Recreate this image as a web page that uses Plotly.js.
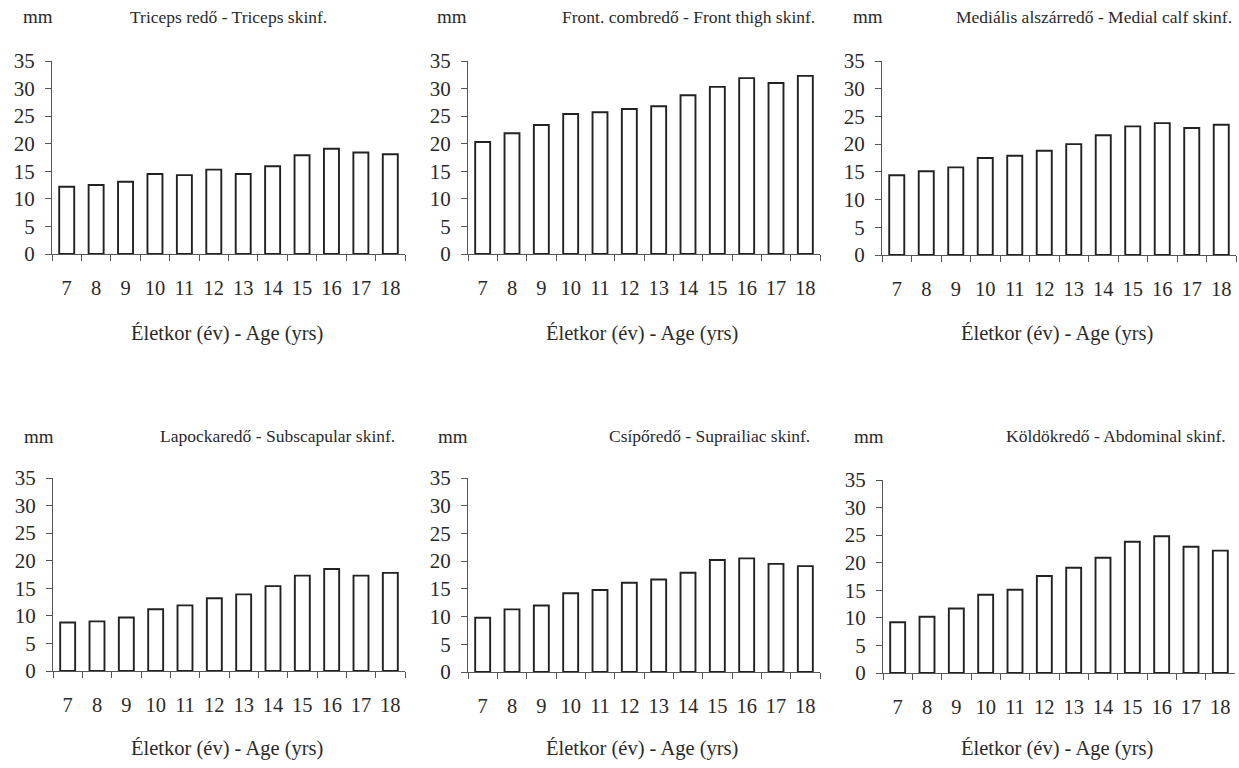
<!DOCTYPE html>
<html>
<head>
<meta charset="utf-8">
<script src="https://cdn.plot.ly/plotly-3.0.1.min.js"></script>
<style>html,body{margin:0;padding:0;background:#fff;}#chart{width:1239px;height:768px;}</style>
</head>
<body>
<div id="chart"></div>
<script>
const ages = ['7','8','9','10','11','12','13','14','15','16','17','18'];
const tricepsSkinf = [12.2, 12.5, 13.1, 14.5, 14.3, 15.3, 14.5, 15.9, 17.9, 19.1, 18.4, 18.1];
const frontThighSkinf = [20.3, 21.9, 23.4, 25.4, 25.7, 26.3, 26.8, 28.8, 30.3, 31.9, 31.0, 32.3];
const medialCalfSkinf = [14.4, 15.1, 15.8, 17.5, 17.9, 18.8, 20.0, 21.6, 23.2, 23.8, 22.9, 23.5];
const subscapularSkinf = [8.8, 9.0, 9.7, 11.2, 11.9, 13.2, 13.9, 15.4, 17.3, 18.5, 17.3, 17.8];
const suprailiacSkinf = [9.8, 11.3, 12.0, 14.2, 14.8, 16.1, 16.7, 17.9, 20.2, 20.5, 19.5, 19.1];
const abdominalSkinf = [9.2, 10.2, 11.7, 14.2, 15.1, 17.6, 19.1, 20.9, 23.8, 24.8, 22.9, 22.2];
const panelTitles = [
  'Triceps redő - Triceps skinf.',
  'Front. combredő - Front thigh skinf.',
  'Mediális alszárredő - Medial calf skinf.',
  'Lapockaredő - Subscapular skinf.',
  'Csípőredő - Suprailiac skinf.',
  'Köldökredő - Abdominal skinf.'
];
const unitLabel = 'mm';
const xTitle = 'Életkor (év) - Age (yrs)';
const yTicks = [0, 5, 10, 15, 20, 25, 30, 35];

const W = 1239, H = 768;
const series = [tricepsSkinf, frontThighSkinf, medialCalfSkinf, subscapularSkinf, suprailiacSkinf, abdominalSkinf];
// pixel boxes: [x0, x1, yTop, yBottom]
const boxes = [
  [52, 405, 61, 254],
  [468, 820, 61, 254],
  [882, 1236, 61, 255],
  [53, 405, 478, 671],
  [468, 820, 478, 672],
  [883, 1235, 480, 673]
];
// title placement: [mmCenterX, titleRightX, titleY]
const titlePos = [
  [38, 329, 17],
  [452, 817, 17],
  [868, 1234, 17],
  [39, 397, 436],
  [453, 812, 436],
  [869, 1228, 436]
];
const xTitleY = [334, 334, 334, 748, 748, 748];

const font = 'Liberation Serif';
const txt = '#2a2a2a';
const data = [];
const layout = {
  width: W, height: H,
  margin: {l: 0, r: 0, t: 0, b: 0},
  paper_bgcolor: '#fff', plot_bgcolor: '#fff',
  showlegend: false,
  bargap: 0.49,
  font: {family: font, color: txt, size: 18},
  annotations: []
};
series.forEach((vals, i) => {
  const n = i + 1;
  const sfx = n === 1 ? '' : String(n);
  const b = boxes[i];
  data.push({
    type: 'bar', x: ages, y: vals,
    xaxis: 'x' + sfx, yaxis: 'y' + sfx,
    marker: {color: '#fff', line: {color: '#222', width: 1.9}},
    hoverinfo: 'x+y'
  });
  layout['xaxis' + sfx] = {
    domain: [b[0] / W, b[1] / W], anchor: 'y' + sfx,
    type: 'category', tickson: 'boundaries', ticks: 'outside', ticklen: 6,
    tickcolor: '#555', showline: true, linecolor: '#555', linewidth: 1,
    showgrid: false, zeroline: false, ticklabelstandoff: 15, tickangle: 0,
    tickfont: {family: font, size: 20.5, color: txt}, fixedrange: true
  };
  layout['yaxis' + sfx] = {
    domain: [1 - b[3] / H, 1 - b[2] / H], anchor: 'x' + sfx,
    range: [0, 35], tickvals: yTicks, ticks: 'outside', ticklen: 6,
    tickcolor: '#555', showline: true, linecolor: '#555', linewidth: 1,
    showgrid: false, zeroline: false, ticklabelstandoff: 6,
    tickfont: {family: font, size: 21, color: txt}, fixedrange: true
  };
  const t = titlePos[i];
  layout.annotations.push({
    xref: 'paper', yref: 'paper', x: t[0] / W, y: 1 - t[2] / H,
    xanchor: 'center', yanchor: 'middle', showarrow: false,
    text: unitLabel, font: {family: font, size: 19, color: txt}
  });
  layout.annotations.push({
    xref: 'paper', yref: 'paper', x: t[1] / W, y: 1 - t[2] / H,
    xanchor: 'right', yanchor: 'middle', showarrow: false,
    text: panelTitles[i], font: {family: font, size: 17.5, color: txt}
  });
  layout.annotations.push({
    xref: 'paper', yref: 'paper', x: ((b[0] + b[1]) / 2 - 2) / W, y: 1 - xTitleY[i] / H,
    xanchor: 'center', yanchor: 'middle', showarrow: false,
    text: xTitle, font: {family: font, size: 20.5, color: txt}
  });
});
Plotly.newPlot('chart', data, layout, {displayModeBar: false, staticPlot: true});
</script>
</body>
</html>
